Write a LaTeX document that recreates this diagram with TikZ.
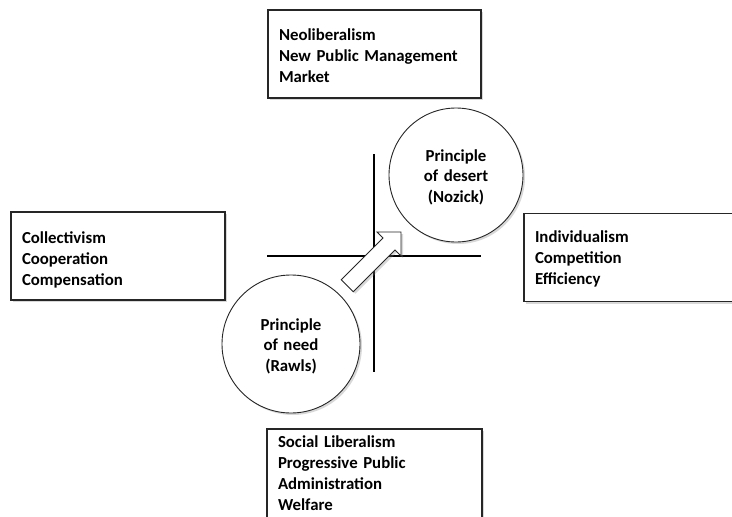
\documentclass[tikz,border=0pt]{standalone}
\usepackage{fontspec}
\setmainfont{Carlito}
\usetikzlibrary{shadows}
\begin{document}
\begin{tikzpicture}[x=1pt,y=-1pt,
  shadowed/.style={drop shadow={opacity=0.3,shadow xshift=2pt,shadow yshift=-2pt}},
  box/.style={draw=black!85, line width=1.1pt, fill=white, shadowed, rectangle,
    align=left, inner xsep=11pt, inner ysep=0pt, minimum height=88pt,
    text height=10pt, font=\fontsize{16.8}{21}\selectfont\bfseries},
  principle/.style={draw=black!85, line width=0.9pt, fill=white, shadowed, circle,
    align=center, inner sep=0pt, text width=100pt,
    text height=10pt, text depth=36.8pt,
    font=\fontsize{16.8}{20.3}\selectfont\bfseries},
  axis/.style={line width=2.6pt, black}]
\useasboundingbox (0,0) rectangle (732,517);
\fill[white] (0,0) rectangle (732,517);
\clip (0,0) rectangle (732,517);

% boxes
\node[box, text width=191pt, text depth=36.8pt] (top) at (374.5,54) {Neoliberalism\\New Public Management\\Market};
\node[box, text width=192pt, text depth=35.8pt] (left) at (118,256) {Collectivism\\Cooperation\\Compensation};
\node[box, text width=196pt, text depth=39.8pt] (right) at (633,257.5) {Individualism\\Competition\\Efficiency};
\node[box, text width=193pt, minimum height=92pt, text depth=64.8pt] (bottom) at (374.5,475) {Social Liberalism\\Progressive Public\\Administration\\Welfare};

% axes
\coordinate (vt) at (374,154);
\coordinate (vb) at (374,372);
\coordinate (hl) at (267,256);
\coordinate (hr) at (481,256);
\draw[axis] (vt) -- (vb);
\draw[axis] (hl) -- (hr);

% circles
\node[principle, minimum size=134pt] (desert) at (456,175) {Principle\\of desert\\(Nozick)};
\node[principle, minimum size=138pt] (need) at (291,344) {Principle\\of need\\(Rawls)};

% block arrow
\draw[draw=black!85, line width=0.9pt, fill=white, shadowed, line join=miter]
  (341.3,279.7) -- (383,238) -- (377,232) -- (401,232) -- (401,256) -- (395,250) -- (353.3,291.7) -- cycle;
\end{tikzpicture}
\end{document}
